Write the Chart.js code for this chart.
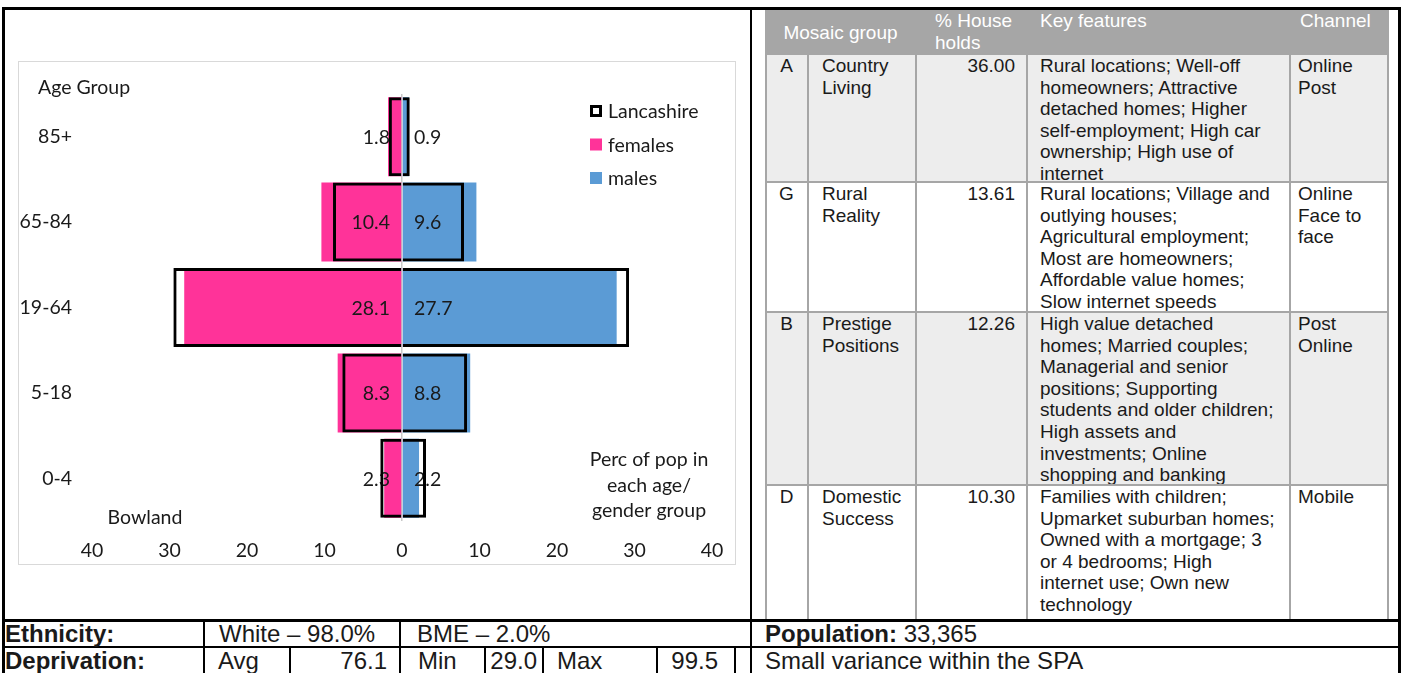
<!DOCTYPE html>
<html lang="en">
<head>
  <meta charset="UTF-8" />
  <title>Bowland SPA profile</title>
  <script src="https://cdn.jsdelivr.net/npm/chart.js"></script>
  <style>
    body { margin: 0; width: 1405px; height: 673px; overflow: hidden; position: relative; background: #fff; color: #1a1a1a; font-family: "Liberation Sans", Arial, sans-serif; }
    .abs { position: absolute; box-sizing: border-box; }
    .frame { left: 2px; top: 7px; width: 1399px; height: 615px; border: 3px solid #000; }
    .vline { width: 2px; background: #000; }
    .hline { height: 2px; background: #000; }
    #chartBox { left: 18px; top: 61px; width: 718px; height: 504px; border: 1px solid #d9d9d9; }
    #chartBox canvas { display: block; }
    #mosaic { left: 765px; top: 10px; width: 624px; height: 609px; overflow: hidden; font-size: 19px; line-height: 21.6px; }
    .head { left: 0; top: 0; width: 100%; height: 45px; background: #a6a6a6; color: #fff; }
    .row { left: 0; width: 100%; overflow: hidden; border-bottom: 2px solid #a6a6a6; }
    .row.shade { background: #ededed; }
    .gv { top: 45px; height: 570px; width: 2px; background: #a6a6a6; }
    .cell { position: absolute; top: 0; white-space: nowrap; }
    .bottom { position: absolute; font-size: 24px; line-height: 26px; white-space: nowrap; }
  </style>
</head>
<body>
  <div class="abs frame"></div>
  <div class="abs vline" style="left:750px; top:7px; height:666px;"></div>

  <div id="chartBox" class="abs">
    <canvas id="pyramid" width="716" height="502"></canvas>
  </div>

  <div id="mosaic" class="abs"></div>

  <!-- bottom rows -->
  <div class="abs vline" style="left:2px; top:620px; height:53px; width:3px;"></div>
  <div class="abs vline" style="left:1398px; top:620px; height:53px; width:3px;"></div>
  <div class="abs hline" style="left:2px; top:646px; width:1399px;"></div>
  <div class="abs vline" style="left:203px; top:620px; height:53px;"></div>
  <div class="abs vline" style="left:399px; top:620px; height:53px;"></div>
  <div class="abs vline" style="left:289px; top:647px; height:26px;"></div>
  <div class="abs vline" style="left:484px; top:647px; height:26px;"></div>
  <div class="abs vline" style="left:542px; top:647px; height:26px;"></div>
  <div class="abs vline" style="left:656px; top:647px; height:26px;"></div>
  <div class="abs vline" style="left:734px; top:647px; height:26px;"></div>

  <div class="bottom" style="left:5px; top:621px;"><b>Ethnicity:</b></div>
  <div class="bottom" style="left:219px; top:621px;">White – 98.0%</div>
  <div class="bottom" style="left:417px; top:621px;">BME – 2.0%</div>
  <div class="bottom" style="left:765px; top:621px;"><b>Population:</b> 33,365</div>

  <div class="bottom" style="left:5px; top:648px;"><b>Deprivation:</b></div>
  <div class="bottom" style="left:218px; top:648px;">Avg</div>
  <div class="bottom" style="left:291px; top:648px; width:96px; text-align:right;">76.1</div>
  <div class="bottom" style="left:418px; top:648px;">Min</div>
  <div class="bottom" style="left:486px; top:648px; width:51px; text-align:right;">29.0</div>
  <div class="bottom" style="left:557px; top:648px;">Max</div>
  <div class="bottom" style="left:658px; top:648px; width:60px; text-align:right;">99.5</div>
  <div class="bottom" style="left:765px; top:648px;">Small variance within the SPA</div>

  <script>
    // pyramid data (percent of population)
    const ageGroups = ['85+', '65-84', '19-64', '5-18', '0-4'];
    const bowlandFemales = [1.8, 10.4, 28.1, 8.3, 2.3];
    const bowlandMales = [0.9, 9.6, 27.7, 8.8, 2.2];
    const lancashireFemales = [1.7, 8.9, 29.5, 7.7, 2.8];
    const lancashireMales = [1.0, 8.0, 29.3, 8.4, 3.1];
    const axisLimit = 40;
    const axisStep = 10;

    // mosaic table
    const mosaicHeaders = ['Mosaic group', ['% House', 'holds'], 'Key features', 'Channel'];
    const mosaicCodes = ['A', 'G', 'B', 'D'];
    const mosaicNames = [['Country', 'Living'], ['Rural', 'Reality'], ['Prestige', 'Positions'], ['Domestic', 'Success']];
    const mosaicShares = ['36.00', '13.61', '12.26', '10.30'];
    const mosaicFeatures = [
      ['Rural locations; Well-off', 'homeowners; Attractive', 'detached homes; Higher', 'self-employment; High car', 'ownership; High use of', 'internet'],
      ['Rural locations; Village and', 'outlying houses;', 'Agricultural employment;', 'Most are homeowners;', 'Affordable value homes;', 'Slow internet speeds'],
      ['High value detached', 'homes; Married couples;', 'Managerial and senior', 'positions; Supporting', 'students and older children;', 'High assets and', 'investments; Online', 'shopping and banking'],
      ['Families with children;', 'Upmarket suburban homes;', 'Owned with a mortgage; 3', 'or 4 bedrooms; High', 'internet use; Own new', 'technology']
    ];
    const mosaicChannels = [['Online', 'Post'], ['Online', 'Face to', 'face'], ['Post', 'Online'], ['Mobile']];

    const chartFont = { family: 'Lato', size: 19.5 };
    const ink = '#1a1a1a';
    const pink = '#ff3399';
    const blue = '#5b9bd5';

    // ---- build the mosaic table ----
    const mosaic = document.getElementById('mosaic');
    const head = document.createElement('div');
    head.className = 'abs head';
    head.innerHTML = `
      <div class="cell" style="left:0; width:151px; top:12px; text-align:center;">${mosaicHeaders[0]}</div>
      <div class="cell" style="left:170px;">${mosaicHeaders[1].join('<br>')}</div>
      <div class="cell" style="left:275px;">${mosaicHeaders[2]}</div>
      <div class="cell" style="left:535px;">${mosaicHeaders[3]}</div>`;
    mosaic.appendChild(head);

    const rowHeights = [128, 130, 173, 140];
    let rowTop = 45;
    mosaicCodes.forEach((code, i) => {
      const row = document.createElement('div');
      row.className = 'abs row' + (i % 2 === 0 ? ' shade' : '');
      row.style.top = rowTop + 'px';
      row.style.height = rowHeights[i] + 'px';
      row.innerHTML = `
        <div class="cell" style="left:0; width:43px; text-align:center;">${code}</div>
        <div class="cell" style="left:57px;">${mosaicNames[i].join('<br>')}</div>
        <div class="cell" style="left:151px; width:99px; text-align:right;">${mosaicShares[i]}</div>
        <div class="cell" style="left:275px;">${mosaicFeatures[i].join('<br>')}</div>
        <div class="cell" style="left:533px;">${mosaicChannels[i].join('<br>')}</div>`;
      mosaic.appendChild(row);
      rowTop += rowHeights[i];
    });
    [0, 42, 150, 261, 524, 622].forEach(x => {
      const line = document.createElement('div');
      line.className = 'abs gv';
      line.style.left = x + 'px';
      mosaic.appendChild(line);
    });

    // ---- pyramid chart ----
    // value labels sit at the bar base, under the Lancashire outlines
    const valueLabels = {
      id: 'valueLabels',
      afterDatasetDraw(chart, args) {
        if (args.index !== 2) return;
        const { ctx, scales: { x } } = chart;
        const zero = x.getPixelForValue(0);
        ctx.save();
        ctx.font = `${chartFont.size}px ${chartFont.family}`;
        ctx.fillStyle = ink;
        ctx.textBaseline = 'middle';
        chart.getDatasetMeta(2).data.forEach((bar, i) => {
          ctx.textAlign = 'right';
          ctx.fillText(bowlandFemales[i].toFixed(1), zero - 12, bar.y + 1);
        });
        chart.getDatasetMeta(3).data.forEach((bar, i) => {
          ctx.textAlign = 'left';
          ctx.fillText(bowlandMales[i].toFixed(1), zero + 12, bar.y + 1);
        });
        ctx.restore();
      }
    };

    const notesAndLegend = {
      id: 'notesAndLegend',
      afterDraw(chart) {
        const ctx = chart.ctx;
        ctx.save();
        ctx.font = `${chartFont.size}px ${chartFont.family}`;
        ctx.fillStyle = ink;
        ctx.textBaseline = 'middle';
        ctx.textAlign = 'left';
        ctx.fillText('Age Group', 19, 26);
        ctx.textAlign = 'center';
        ctx.fillText('Bowland', 126, 456);
        ['Perc of pop in', 'each age/', 'gender group'].forEach((t, i) => ctx.fillText(t, 630, 398 + i * 25.5));

        // legend
        const items = [0, 2, 3].map(i => chart.data.datasets[i]);
        items.forEach((ds, i) => {
          const y = 49 + i * 33.5;
          if (i === 0) {
            ctx.fillStyle = '#000';
            ctx.fillRect(571, y - 6, 12, 12);
            ctx.fillStyle = '#fff';
            ctx.fillRect(574, y - 3, 6, 6);
          } else {
            ctx.fillStyle = ds.backgroundColor;
            ctx.fillRect(571, y - 6, 12, 12);
          }
          ctx.fillStyle = ink;
          ctx.textAlign = 'left';
          ctx.fillText(ds.label, 589, y + 1);
        });
        ctx.restore();
      }
    };

    const barShape = { grouped: false, barPercentage: 0.925, categoryPercentage: 1 };

    new Chart(document.getElementById('pyramid'), {
      type: 'bar',
      data: {
        labels: ageGroups,
        datasets: [
          { ...barShape, label: 'Lancashire', data: lancashireFemales.map(v => -v), backgroundColor: 'rgba(0,0,0,0)', borderColor: '#000', borderWidth: 3, borderSkipped: 'start', order: 0 },
          { ...barShape, label: 'Lancashire', data: lancashireMales, backgroundColor: 'rgba(0,0,0,0)', borderColor: '#000', borderWidth: 3, borderSkipped: 'start', order: 0 },
          { ...barShape, label: 'females', data: bowlandFemales.map(v => -v), backgroundColor: pink, borderWidth: 0, order: 1 },
          { ...barShape, label: 'males', data: bowlandMales, backgroundColor: blue, borderWidth: 0, order: 1 }
        ]
      },
      options: {
        indexAxis: 'y',
        responsive: false,
        animation: false,
        layout: { autoPadding: false, padding: { top: 32, right: 23, left: 0, bottom: 0 } },
        plugins: { legend: { display: false }, tooltip: { enabled: false } },
        scales: {
          x: {
            min: -axisLimit,
            max: axisLimit,
            ticks: { stepSize: axisStep, callback: v => Math.abs(v), color: ink, font: chartFont, padding: 18, maxRotation: 0, autoSkip: false },
            grid: { drawTicks: false, lineWidth: 1.5, color: c => (c.tick && c.tick.value === 0 ? '#c8c8c8' : 'rgba(0,0,0,0)') },
            border: { display: false },
            afterFit: s => { s.height = 43; s.paddingLeft = 0; s.paddingRight = 0; }
          },
          y: {
            ticks: { color: ink, font: chartFont, padding: 20 },
            grid: { display: false, drawTicks: false },
            border: { display: false },
            afterFit: s => { s.width = 73; s.paddingTop = 0; s.paddingBottom = 0; }
          }
        }
      },
      plugins: [valueLabels, notesAndLegend]
    });
  </script>
</body>
</html>
